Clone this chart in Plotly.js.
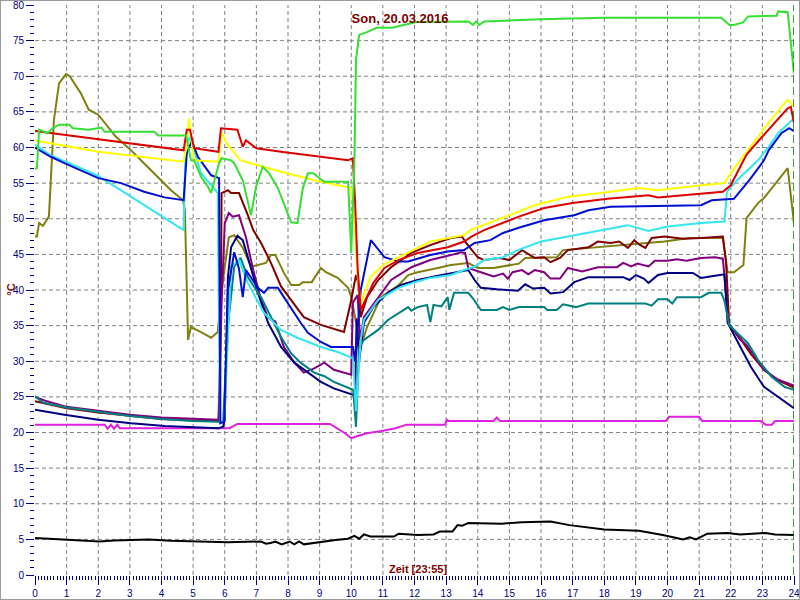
<!DOCTYPE html>
<html>
<head>
<meta charset="utf-8">
<script src="https://cdn.plot.ly/plotly-3.0.1.min.js"></script>
<style>
html,body{margin:0;padding:0;background:#fff;}
#wrap{position:relative;width:800px;height:600px;}
#chart{width:800px;height:600px;}
#frame{position:absolute;left:0;top:0;width:800px;height:600px;box-sizing:border-box;border:1px solid #9a9a9a;pointer-events:none;}
</style>
</head>
<body>
<div id="wrap"><div id="chart"></div><div id="frame"></div></div>
<script>
// ---- data (hours, °C) ----
const greenX = [0,0.06,0.13,0.4,0.55,0.76,1.08,1.2,1.7,2.1,2.2,3.77,3.9,4.78,4.93,5.03,5.25,5.47,5.57,5.67,5.82,5.9,6.2,6.3,6.57,6.83,6.99,7.2,7.4,7.68,8.1,8.3,8.47,8.63,8.8,9.14,9.9,10.0,10.1,10.15,10.25,10.5,10.8,11.3,12.05,13.7,13.85,13.95,14.05,14.2,16,18,21.7,21.96,22.1,22.4,22.55,23.45,23.5,23.8,23.9,24];
const greenY = [57,57.1,62.5,62.0,62.7,63.2,63.2,62.7,62.5,62.8,62.2,62.2,61.7,61.7,58.2,58.2,55.9,54.5,53.6,55.2,57.8,58.5,58.2,57.8,55.4,50.5,54.5,57.3,56.4,54.3,49.5,49.4,54.3,56.4,56.4,55.2,55.2,45.2,58,72.3,75.8,76.2,76.8,76.8,77.6,77.7,77.2,77.7,77.2,77.7,78.0,78.2,78.2,77.2,77.2,77.6,78.4,78.5,79.1,79.0,75,70.4];

const redX = [0,4.7,4.8,4.9,5.03,5.8,5.88,6.4,6.57,6.67,7.0,7.78,9.9,10.05,10.12,10.2,10.3,10.7,11.05,11.5,12.1,13.05,13.57,13.8,14.2,14.8,15.3,16.1,17.0,18.1,19.4,19.7,21.06,21.75,22.0,22.5,22.95,23.37,23.8,23.9,24];
const redY = [62.3,59.6,62.5,62.5,59.9,59.4,62.7,62.5,60.1,61.0,59.9,59.4,58.2,58.5,52.6,43.2,37.2,41,43.1,44.2,45.2,46,46.8,47.5,48.4,49.4,50.3,51.5,52.2,52.8,53.3,53.0,53.6,53.8,54.7,59,61.3,63.4,65.5,65.7,63.4];

const yellowX = [0,2,4.7,4.78,4.87,5.03,5.8,5.9,6.05,6.5,7.78,8.83,10.0,10.1,10.2,10.3,10.6,11.0,11.5,12.5,13.57,13.8,14.6,15.8,16.85,17.9,19.07,19.7,21.06,21.8,22.0,22.3,22.6,23.06,23.6,23.8,24];
const yellowY = [61,59.4,58,60,64.1,58.2,58,62.2,60.6,58.2,56.6,55.4,54.3,50,42,38,41.8,43.5,44.6,46.8,47.7,48.5,49.8,51.9,53.1,53.6,54.3,54.0,54.7,55,56.4,58.2,60.1,62.7,65.7,66.7,65.7];

const blueX = [0,0.5,0.93,1.45,2,2.72,3.45,4.1,4.7,4.8,4.96,5.15,5.57,5.82,5.86,5.98,6.1,6.3,6.45,6.57,6.67,7.05,7.24,7.37,7.68,8.4,8.63,9.04,9.36,10.06,10.12,10.3,10.62,11.05,11.5,11.8,12.5,13.05,13.57,13.9,14.4,14.8,15.27,16.1,17.05,17.5,18.2,21.06,21.4,22.1,22.6,23.05,23.2,23.6,23.85,24];
const blueY = [60,58.7,57.8,56.8,55.7,55,53.8,53,52.6,59.2,60.9,58.7,56.1,55.7,21.3,21.5,40,45.3,43,39,42.8,40.3,39.6,40.3,40.3,35.4,34,32.7,32,32,30,40,47,44.6,44,44,44.9,45.4,45.6,46.6,47,48,48.7,49.8,50.5,51.2,51.7,51.9,52.6,52.8,55.5,58.2,59.6,62,62.7,62.3];

const cyanX = [0,0.5,1.45,2,4.7,4.76,4.9,5.25,5.78,5.85,5.98,6.2,6.45,6.73,7.24,7.78,8.3,9.04,9.57,10.06,10.15,10.3,10.4,10.85,11.5,12.0,12.5,13.15,13.57,13.9,14.2,14.8,15.27,16,16.85,17.9,18.75,19.4,20,21.06,21.8,21.88,22.2,22.86,23.2,23.5,24];
const cyanY = [60.4,58.9,57.1,56,48.4,60,61.5,56.4,53.6,21.4,21.6,43.3,44.2,41,36.8,34.4,33.3,32,31.3,30.4,23,33,35.8,38.6,40.3,41.1,41.7,42.1,42.8,43.3,44.2,44.6,45.6,46.8,47.5,48.4,49.1,48.3,48.9,49.4,49.6,53.8,55.4,58.2,60.1,62,64.1];

const oliveX = [0,0.06,0.13,0.25,0.44,0.6,0.76,0.98,1.1,1.45,1.7,2.0,2.56,3.04,3.35,3.9,4.3,4.68,4.74,4.84,4.93,5.25,5.57,5.78,5.9,6.13,6.3,6.57,6.83,7.05,7.3,7.46,7.6,7.87,8.1,8.35,8.47,8.75,9.04,9.2,9.57,9.9,10.0,10.3,10.5,10.94,11.5,11.8,12.1,12.74,13.15,13.7,14.0,14.5,15.0,15.3,15.5,16.5,16.7,18.3,19.9,20.7,21.6,21.75,21.9,22.1,22.4,22.5,22.86,23.05,23.8,24];
const oliveY = [47.5,47.5,49.4,49,50.3,63.9,69,70.3,70,67.6,65.3,64.6,61.5,59.6,58.2,55.7,54,52.6,51.2,33,34.8,34.1,33.3,34.1,40,47.4,47.7,45.9,43.3,43.5,43.8,44.9,44.9,42.4,40.7,40.7,41.1,41.1,43.1,42.5,41.7,40.3,39,32,34.8,39,40.7,42.1,42.5,43.1,43.5,43.8,43.1,43.1,43.5,43.7,44.5,44.6,45.6,46.2,46.8,47.3,47.3,47.3,42.5,42.5,43.5,50.1,52.2,52.9,57.1,49.4];

const maroonX = [0,1,2,3,4,5,5.85,5.9,6.1,6.2,6.45,6.73,6.9,7.15,7.46,7.78,8.1,8.5,9.04,9.77,10.0,10.15,10.22,10.3,10.5,10.85,11.26,11.9,12.5,13.15,13.5,13.65,14.0,14.2,14.5,14.7,15.0,15.4,15.8,16.1,16.3,16.6,16.85,17.5,17.8,18.2,18.47,18.75,18.95,19.1,19.3,19.5,19.9,20.5,21.06,21.75,21.85,21.95,22.3,22.64,23.05,23.5,24];
const maroonY = [24.4,23.4,22.8,22.3,21.9,21.7,21.6,53.6,54,53.6,53.6,50.5,48.4,46.6,43.8,40.5,38.6,36.2,35.1,34.1,38.6,42.1,41,36.2,39,41.4,43.2,45.2,46.3,47.3,47.5,46.5,44.6,44.2,44.4,44.5,44.2,45.6,44.5,44.6,43.9,44.5,45.6,46,46.8,46.6,46.8,45.9,47,46.4,45.9,47.3,47.5,47.2,47.3,47.5,44,35.2,33.2,31,28.8,27.3,26.3];

const purpleX = [0,0.3,1,2,3,4,5,5.8,5.9,6.0,6.13,6.25,6.45,6.67,6.9,7.15,7.37,7.6,7.87,8.2,8.5,8.83,9.15,9.45,10.0,10.05,10.2,10.28,10.4,10.85,11.26,11.9,12.5,13.15,13.47,13.6,13.7,14.1,14.5,14.8,14.95,15.1,15.4,15.6,15.8,16.1,16.3,16.6,16.85,17.3,17.8,18.4,18.6,18.85,19.05,19.4,19.6,20.0,20.3,20.6,21.06,21.5,21.75,21.85,21.92,22.3,22.5,23.05,23.5,24];
const purpleY = [25.0,24.5,23.6,23.0,22.5,22.1,21.9,21.8,38,49.4,50.8,50.3,50.5,47.4,42.8,38.6,36.1,35.6,32,29.8,28.4,29,29.8,28.8,28.1,38.2,39.3,33,36.2,39,41.4,43.2,44.2,44.9,45.3,45.2,43.1,42.5,41.9,42.3,41.6,42.5,42.8,42.2,42.8,42.5,41.6,41.6,43.1,42.6,43.2,43.2,43.8,43.3,43.7,43.3,44.1,44.1,44.3,44.1,44.5,44.6,44.4,39.6,35.4,33,32.3,28.8,27.4,26.6];

const tealX = [0,0.25,1,2,3,4,5,5.8,5.95,6.1,6.3,6.5,6.73,7.15,7.46,7.78,8.1,8.4,8.83,9.15,9.45,10.06,10.15,10.25,10.4,10.85,11.16,11.5,11.8,11.9,12.1,12.4,12.5,12.6,12.85,13.05,13.1,13.25,13.7,13.85,14.1,14.6,14.8,15.0,15.3,15.6,16.1,16.2,16.5,16.7,17.1,17.5,19.3,19.5,19.7,20.0,20.15,20.3,21.06,21.3,21.7,21.8,21.95,22.2,22.55,22.86,23.3,23.7,24];
const tealY = [25.1,24.2,23.5,22.9,22.3,21.9,21.6,21.5,21.5,35,43.3,44.5,41.8,39,36.2,33.4,31.1,29.8,28.4,27.9,27.1,26,20.8,32,33,34.4,35.8,36.8,37.6,37.1,37.6,37.9,35.5,37.9,37.7,39,37.2,39.6,39.6,38.8,37.2,37.2,37.6,37.2,37.6,37.6,37.6,37.2,37.2,38,37.6,38.1,38.1,37.8,38.7,38.7,38.1,39,39,39.6,39.6,38.5,35.1,34,32.5,30.2,27.8,26.4,26];

const navyX = [0,0.93,2,3.04,4.1,5.8,5.95,6.0,6.1,6.2,6.4,6.57,6.73,7.05,7.37,7.78,8.2,8.63,9.04,9.45,10.06,10.12,10.17,10.25,10.4,10.7,11.16,11.57,12.1,12.74,13.25,13.7,13.9,14.1,14.6,15.27,15.5,15.75,16.1,16.3,16.7,17.05,17.5,18.6,18.8,19.0,19.25,19.4,19.7,20,20.8,21.06,21.5,21.8,21.9,22.3,22.64,23.05,23.6,24];
const navyY = [23.2,22.5,21.8,21.3,20.9,20.6,20.8,21.8,41.8,46,47.6,47,44.6,39.6,35.4,32,29.8,28.4,27.1,26.2,25.3,25,36,30,35.4,37.6,39.6,40.7,41.4,42,42.4,42.8,41.4,40.3,40.1,39.9,40.8,40.2,40.3,39.5,39.7,41.1,41.8,41.8,41.4,42.1,41.6,41,42.1,42.4,42.4,41.7,42,42.2,35.4,32,29.2,26.4,24.6,23.4];

const magentaX = [0,2.2,2.3,2.4,2.5,2.6,2.68,6.15,6.4,9.33,9.8,10.0,10.2,10.5,10.95,11.4,11.75,12.97,13.02,13.1,14.5,14.6,14.7,19.95,20.05,21.0,21.1,22.95,23.1,23.3,23.4,24];
const magentaY = [21.1,21.1,20.5,21.1,20.5,21.1,20.6,20.6,21.2,21.2,19.9,19.2,19.5,19.9,20.2,20.6,21.1,21.1,21.8,21.6,21.6,22.1,21.6,21.6,22.2,22.2,21.6,21.6,21.1,21.1,21.6,21.6];

const blackX = [0,1,2.04,2.5,3.6,4.3,5.0,5.5,6.1,7.15,7.3,7.45,7.6,7.8,8.05,8.2,8.35,8.5,8.8,9.5,9.9,10.1,10.25,10.4,10.6,11.35,11.5,12.1,12.6,12.8,13.2,13.36,13.5,13.7,14.75,15.4,16.3,16.6,16.9,18.0,19.1,19.85,20.5,20.7,20.9,21.26,21.9,22.3,23.1,23.4,23.9,24];
const blackY = [5.2,5.0,4.7,4.85,5.0,4.8,4.7,4.6,4.6,4.7,4.4,4.5,4.7,4.3,4.7,4.3,4.7,4.3,4.5,4.9,5.1,5.5,5.1,5.7,5.4,5.4,5.8,5.6,5.7,6.1,6.1,7.0,6.9,7.3,7.2,7.4,7.5,7.3,7.0,6.4,6.2,5.6,5.0,5.3,5.0,5.8,5.9,5.7,5.9,5.7,5.7,5.6];

const titleText = 'Son, 20.03.2016';
const xTitleText = 'Zeit [23:55]';
const yTitleText = '°C';
const cursorX = 24;

// ---- traces ----
function tr(x, y, color) {
  return {x: x, y: y, type: 'scatter', mode: 'lines', line: {color: color, width: 2}, hoverinfo: 'skip', showlegend: false};
}
const data = [
  tr(blackX, blackY, '#000000'),
  tr(magentaX, magentaY, '#e020e0'),
  tr(oliveX, oliveY, '#808010'),
  tr(maroonX, maroonY, '#800000'),
  tr(purpleX, purpleY, '#800080'),
  tr(navyX, navyY, '#000080'),
  tr(tealX, tealY, '#008080'),
  tr(cyanX, cyanY, '#33e6f0'),
  tr(blueX, blueY, '#0010d0'),
  tr(yellowX, yellowY, '#ffff00'),
  tr(redX, redY, '#dc0000'),
  tr(greenX, greenY, '#33e033')
];

// dashed grid (interior lines only, as in the reference)
const gridShapes = [];
for (let i = 1; i < 24; i++) {
  gridShapes.push({type: 'line', layer: 'below', xref: 'x', yref: 'paper', x0: i, x1: i, y0: 0, y1: 1,
                   line: {color: '#808080', width: 1, dash: '4px,3px'}});
}
for (let j = 5; j < 80; j += 5) {
  gridShapes.push({type: 'line', layer: 'below', xref: 'paper', yref: 'y', x0: 0, x1: 1, y0: j, y1: j,
                   line: {color: '#808080', width: 1, dash: '4px,3px'}});
}
gridShapes.push({type: 'line', xref: 'x', yref: 'paper', x0: cursorX, x1: cursorX, y0: 0, y1: 1,
                 line: {color: '#008000', width: 1.5, dash: '8px,4px'}});

const tickFont = {family: 'Arial, Liberation Sans, sans-serif', size: 10, color: '#000080'};
const layout = {
  width: 800, height: 600,
  margin: {l: 35, r: 6, t: 5, b: 25},
  paper_bgcolor: '#ffffff', plot_bgcolor: '#ffffff',
  showlegend: false,
  title: {text: titleText, x: 0.5, xref: 'container', xanchor: 'center', y: 0.97, yref: 'container', yanchor: 'middle',
          font: {family: 'Arial, Liberation Sans, sans-serif', size: 13, color: '#800000', weight: 'bold'}},
  xaxis: {range: [0, 24], dtick: 1, tick0: 0, ticks: 'outside', ticklen: 9, tickwidth: 1, tickcolor: '#000080',
          showgrid: false, zeroline: false, showline: false, tickfont: tickFont, fixedrange: true,
          ticklabeloverflow: 'allow',
          minor: {dtick: 0.1, ticks: 'outside', ticklen: 4, tickcolor: '#000080', tickwidth: 1, showgrid: false}},
  yaxis: {range: [0, 80], dtick: 5, tick0: 0, ticks: 'outside', ticklen: 8, tickwidth: 1, tickcolor: '#000080',
          showgrid: false, zeroline: false, showline: false, tickfont: tickFont, fixedrange: true,
          ticklabeloverflow: 'allow',
          minor: {dtick: 1, ticks: 'outside', ticklen: 4, tickcolor: '#000080', tickwidth: 1, showgrid: false}},
  shapes: gridShapes,
  annotations: [
    {text: xTitleText, xref: 'paper', yref: 'paper', x: 0.505, y: 0.01, xanchor: 'center', yanchor: 'middle', showarrow: false,
     font: {family: 'Arial, Liberation Sans, sans-serif', size: 11, color: '#800000', weight: 'bold'}},
    {text: yTitleText, xref: 'paper', yref: 'paper', x: -0.032, y: 0.5, xanchor: 'center', yanchor: 'middle', showarrow: false, textangle: -90,
     font: {family: 'Arial, Liberation Sans, sans-serif', size: 11, color: '#800000', weight: 'bold'}}
  ]
};
Plotly.newPlot('chart', data, layout, {staticPlot: true, displayModeBar: false});
</script>
</body>
</html>
